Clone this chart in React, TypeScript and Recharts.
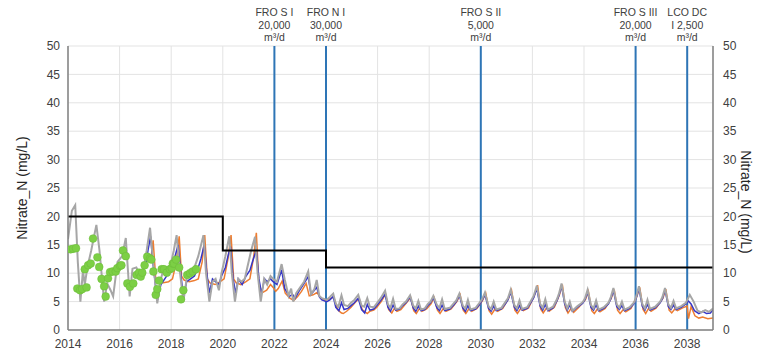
import {
  ComposedChart,
  CartesianGrid,
  Line,
  Scatter,
  XAxis,
  YAxis,
  ReferenceLine,
  Label,
} from "recharts";

const font = "'Liberation Sans', Arial, sans-serif";

const yearTicks = [2014, 2016, 2018, 2020, 2022, 2024, 2026, 2028, 2030, 2032, 2034, 2036, 2038];
const nitrateTicks = [0, 5, 10, 15, 20, 25, 30, 35, 40, 45, 50];

// limit (step line)
const limitLine: [number, number][] = [
  [2014, 20],
  [2020, 14],
  [2024, 11],
  [2039, 11],
];

// plant start-ups
const plants: { year: number; lines: string[] }[] = [
  { year: 2022, lines: ["FRO S I", "20,000", "m³/d"] },
  { year: 2024, lines: ["FRO N I", "30,000", "m³/d"] },
  { year: 2030, lines: ["FRO S II", "5,000", "m³/d"] },
  { year: 2036, lines: ["FRO S III", "20,000", "m³/d"] },
  { year: 2038, lines: ["LCO DC", "I 2,500", "m³/d"] },
];

const observed: [number, number][] = [
  [2014.1, 14.2], [2014.2, 14.3], [2014.31, 14.4], [2014.36, 7.3], [2014.47, 7.0], [2014.55, 7.2],
  [2014.65, 10.7], [2014.72, 7.5], [2014.78, 11.4], [2014.88, 11.7], [2014.97, 16.1], [2015.14, 12.8],
  [2015.21, 11.1], [2015.3, 9.0], [2015.4, 7.7], [2015.46, 5.9], [2015.55, 9.1], [2015.63, 10.2],
  [2015.73, 10.3], [2015.85, 10.3], [2015.91, 10.9], [2016.02, 11.3], [2016.07, 11.4], [2016.13, 14.0],
  [2016.24, 13.0], [2016.3, 8.2], [2016.4, 7.6], [2016.53, 8.2], [2016.66, 9.7], [2016.75, 10.1],
  [2016.82, 9.4], [2016.88, 10.1], [2016.97, 11.4], [2017.07, 12.9], [2017.18, 12.6], [2017.23, 12.4],
  [2017.31, 10.3], [2017.4, 6.2], [2017.46, 7.2], [2017.53, 8.7], [2017.63, 10.7], [2017.72, 10.7],
  [2017.83, 10.1], [2017.95, 10.7], [2018.02, 10.9], [2018.06, 11.7], [2018.11, 11.7], [2018.19, 12.4],
  [2018.31, 11.0], [2018.38, 5.4], [2018.47, 7.0], [2018.62, 9.7], [2018.73, 10.0], [2018.83, 10.3],
  [2018.96, 10.7],
];

const grayLine: [number, number][] = [
  [2014.0, 16.0], [2014.15, 21.0], [2014.28, 22.0], [2014.38, 12.0], [2014.48, 5.0], [2014.58, 10.5], [2014.65, 8.0], [2014.75, 11.0], [2014.9, 14.0],
  [2015.1, 18.5], [2015.22, 14.0], [2015.4, 5.0], [2015.52, 8.2], [2015.65, 7.0], [2015.75, 5.9], [2015.92, 12.0],
  [2016.1, 13.0], [2016.24, 16.2], [2016.39, 5.9], [2016.5, 10.8], [2016.65, 11.0], [2016.75, 10.0], [2016.88, 9.5],
  [2017.05, 14.0], [2017.18, 18.0], [2017.3, 12.0], [2017.46, 4.7], [2017.6, 9.0], [2017.72, 11.0], [2017.85, 10.0], [2017.98, 11.5],
  [2018.1, 14.0], [2018.21, 16.7], [2018.32, 11.0], [2018.47, 5.0], [2018.6, 9.0], [2018.75, 10.5], [2018.9, 11.0],
  [2019.05, 13.0], [2019.25, 16.7], [2019.35, 10.0], [2019.48, 5.0], [2019.6, 8.5], [2019.72, 9.0], [2019.85, 7.0], [2019.95, 10.0],
  [2020.1, 13.0], [2020.25, 16.5], [2020.35, 10.0], [2020.47, 5.0], [2020.6, 9.0], [2020.72, 8.5], [2020.85, 9.0], [2020.95, 11.0],
  [2021.1, 14.0], [2021.25, 16.4], [2021.35, 10.0], [2021.47, 5.0], [2021.6, 9.0], [2021.72, 8.0], [2021.85, 9.5], [2021.95, 9.0],
  [2022.1, 8.5], [2022.28, 11.6], [2022.4, 8.9], [2022.55, 6.0], [2022.65, 7.3], [2022.73, 5.0], [2022.85, 6.5], [2023.0, 7.5], [2023.15, 8.5],
  [2023.31, 10.3], [2023.42, 6.3], [2023.55, 7.2], [2023.64, 8.8], [2023.74, 6.0], [2023.84, 5.6], [2024.03, 5.3],
  [2024.15, 5.8], [2024.28, 6.4], [2024.38, 4.6], [2024.48, 4.1], [2024.6, 6.1], [2024.7, 4.4], [2024.85, 4.2], [2024.97, 4.8],
  [2025.1, 5.3], [2025.25, 6.2], [2025.38, 4.3], [2025.48, 4.1], [2025.6, 5.6], [2025.7, 4.1], [2025.85, 4.0], [2025.97, 4.7],
  [2026.12, 5.6], [2026.29, 6.9], [2026.4, 4.5], [2026.5, 3.9], [2026.6, 5.5], [2026.7, 3.7], [2026.85, 3.8], [2026.97, 4.5],
  [2027.1, 5.0], [2027.26, 6.1], [2027.38, 4.3], [2027.48, 3.8], [2027.58, 5.1], [2027.68, 3.6], [2027.83, 3.8], [2027.95, 4.6],
  [2028.05, 5.0], [2028.16, 6.0], [2028.3, 4.4], [2028.4, 3.9], [2028.5, 5.4], [2028.6, 3.7], [2028.8, 3.9], [2028.95, 4.7],
  [2029.05, 5.2], [2029.17, 6.4], [2029.3, 4.3], [2029.4, 3.8], [2029.5, 5.3], [2029.6, 3.6], [2029.8, 3.9], [2029.95, 4.8],
  [2030.05, 5.4], [2030.16, 6.6], [2030.3, 4.2], [2030.4, 3.7], [2030.5, 5.0], [2030.6, 3.6], [2030.8, 3.9], [2030.95, 4.9],
  [2031.05, 5.6], [2031.16, 7.1], [2031.3, 4.4], [2031.4, 3.8], [2031.5, 5.2], [2031.6, 3.7], [2031.8, 4.0], [2031.95, 5.2],
  [2032.05, 6.0], [2032.17, 7.8], [2032.3, 4.6], [2032.4, 3.9], [2032.5, 5.4], [2032.6, 3.6], [2032.8, 4.1], [2032.95, 5.4],
  [2033.03, 6.4], [2033.13, 8.2], [2033.25, 5.0], [2033.35, 3.8], [2033.45, 5.0], [2033.55, 3.4], [2033.75, 4.2], [2033.95, 4.9],
  [2034.04, 5.6], [2034.14, 7.1], [2034.27, 4.4], [2034.37, 3.8], [2034.47, 5.2], [2034.57, 3.6], [2034.77, 4.0], [2034.95, 4.8],
  [2035.04, 5.8], [2035.14, 7.4], [2035.27, 4.5], [2035.37, 3.9], [2035.47, 5.0], [2035.57, 3.6], [2035.77, 4.0], [2035.95, 4.9],
  [2036.03, 6.0], [2036.13, 7.7], [2036.26, 4.6], [2036.36, 3.8], [2036.46, 5.3], [2036.56, 3.7], [2036.76, 4.1], [2036.95, 5.0],
  [2037.04, 5.8], [2037.14, 7.4], [2037.27, 4.5], [2037.37, 3.9], [2037.47, 5.1], [2037.57, 3.8], [2037.77, 4.2], [2037.95, 4.8],
  [2038.1, 6.2], [2038.25, 5.0], [2038.4, 3.4], [2038.55, 3.1], [2038.7, 3.5], [2038.85, 3.2], [2039.0, 3.8],
];

const blueLine: [number, number][] = [
  [2017.0, 11.0], [2017.1, 14.0], [2017.2, 16.5], [2017.3, 11.5], [2017.46, 5.2], [2017.6, 8.0], [2017.75, 9.0], [2017.9, 10.0],
  [2018.05, 11.0], [2018.15, 13.0], [2018.27, 15.0], [2018.37, 10.0], [2018.47, 5.9], [2018.6, 8.5], [2018.75, 9.0], [2018.9, 9.5],
  [2019.05, 11.0], [2019.15, 12.5], [2019.28, 15.0], [2019.38, 10.0], [2019.48, 6.5], [2019.6, 9.0], [2019.72, 8.5], [2019.85, 8.0], [2019.95, 9.5],
  [2020.1, 11.0], [2020.2, 13.0], [2020.3, 14.7], [2020.4, 9.0], [2020.5, 6.5], [2020.6, 9.0], [2020.75, 8.0], [2020.9, 9.5],
  [2021.05, 10.5], [2021.15, 12.0], [2021.3, 14.1], [2021.4, 9.0], [2021.5, 6.5], [2021.62, 9.0], [2021.72, 8.5], [2021.85, 9.0], [2021.95, 8.5],
  [2022.1, 8.0], [2022.28, 10.6], [2022.4, 7.3], [2022.58, 5.9], [2022.7, 6.3], [2022.8, 5.6], [2022.95, 6.8], [2023.15, 8.2], [2023.31, 9.4],
  [2023.42, 6.3], [2023.55, 7.0], [2023.64, 7.5], [2023.75, 5.8], [2023.84, 5.3], [2024.03, 5.0],
  [2024.15, 5.3], [2024.28, 5.9], [2024.38, 4.0], [2024.5, 3.4], [2024.6, 4.8], [2024.7, 3.6], [2024.85, 3.8], [2024.97, 4.3],
  [2025.1, 4.8], [2025.25, 5.6], [2025.38, 3.6], [2025.5, 3.0], [2025.6, 4.5], [2025.7, 3.5], [2025.85, 3.7], [2025.97, 4.3],
  [2026.12, 5.2], [2026.29, 6.3], [2026.4, 4.0], [2026.5, 3.3], [2026.6, 4.4], [2026.7, 3.5], [2026.85, 3.7], [2026.97, 4.3],
  [2027.1, 4.8], [2027.26, 5.8], [2027.38, 3.9], [2027.48, 3.3], [2027.58, 4.2], [2027.68, 3.4], [2027.83, 3.6], [2027.95, 4.3],
  [2028.05, 4.8], [2028.16, 5.7], [2028.3, 3.9], [2028.4, 3.4], [2028.5, 4.4], [2028.6, 3.4], [2028.8, 3.7], [2028.95, 4.4],
  [2029.05, 5.0], [2029.17, 6.1], [2029.3, 3.9], [2029.4, 3.3], [2029.5, 4.3], [2029.6, 3.4], [2029.8, 3.7], [2029.95, 4.5],
  [2030.05, 5.2], [2030.16, 6.2], [2030.3, 3.8], [2030.4, 3.3], [2030.5, 4.2], [2030.6, 3.4], [2030.8, 3.7], [2030.95, 4.6],
  [2031.05, 5.3], [2031.16, 6.7], [2031.3, 4.0], [2031.4, 3.4], [2031.5, 4.3], [2031.6, 3.5], [2031.8, 3.8], [2031.95, 4.9],
  [2032.05, 5.7], [2032.17, 7.3], [2032.3, 4.2], [2032.4, 3.5], [2032.5, 4.5], [2032.6, 3.4], [2032.8, 3.9], [2032.95, 5.1],
  [2033.03, 6.1], [2033.13, 7.8], [2033.25, 4.6], [2033.35, 3.5], [2033.45, 4.4], [2033.55, 3.3], [2033.75, 4.0], [2033.95, 4.7],
  [2034.04, 5.4], [2034.14, 6.7], [2034.27, 4.0], [2034.37, 3.5], [2034.47, 4.4], [2034.57, 3.4], [2034.77, 3.8], [2034.95, 4.6],
  [2035.04, 5.5], [2035.14, 7.0], [2035.27, 4.1], [2035.37, 3.6], [2035.47, 4.3], [2035.57, 3.4], [2035.77, 3.8], [2035.95, 4.7],
  [2036.03, 5.7], [2036.13, 7.3], [2036.26, 4.2], [2036.36, 3.5], [2036.46, 4.5], [2036.56, 3.5], [2036.76, 3.9], [2036.95, 4.8],
  [2037.04, 5.5], [2037.14, 7.1], [2037.27, 4.1], [2037.37, 3.6], [2037.47, 4.4], [2037.57, 3.6], [2037.77, 4.0], [2037.95, 4.6],
  [2038.05, 5.1], [2038.15, 4.6], [2038.28, 3.4], [2038.45, 2.9], [2038.6, 3.3], [2038.75, 2.9], [2038.9, 3.0], [2039.0, 3.6],
];

const orangeLine: [number, number][] = [
  [2017.2, 12.0], [2017.3, 15.8], [2017.4, 9.0], [2017.5, 8.5], [2017.7, 8.3], [2017.9, 8.5],
  [2018.05, 9.0], [2018.2, 12.0], [2018.31, 16.5], [2018.4, 9.5], [2018.5, 8.8], [2018.7, 8.5], [2018.9, 8.7],
  [2019.05, 9.0], [2019.2, 12.0], [2019.3, 16.7], [2019.4, 9.0], [2019.5, 8.3], [2019.7, 8.0], [2019.9, 8.5],
  [2020.05, 9.0], [2020.2, 12.5], [2020.32, 16.7], [2020.42, 9.0], [2020.52, 8.3], [2020.7, 8.0], [2020.9, 8.5],
  [2021.05, 9.0], [2021.2, 13.0], [2021.3, 17.1], [2021.4, 8.0], [2021.5, 6.5], [2021.7, 7.0], [2021.85, 8.0], [2021.95, 7.5],
  [2022.05, 6.8], [2022.15, 7.3], [2022.3, 8.6], [2022.42, 6.5], [2022.6, 5.6], [2022.75, 5.2], [2022.9, 5.9], [2023.05, 6.8],
  [2023.23, 8.2], [2023.35, 6.0], [2023.5, 6.2], [2023.65, 6.6], [2023.8, 5.6], [2023.95, 5.2],
  [2024.1, 5.4], [2024.3, 5.8], [2024.45, 3.6], [2024.6, 3.0], [2024.67, 2.9], [2024.8, 3.3], [2024.97, 4.0],
  [2025.12, 4.8], [2025.28, 5.6], [2025.4, 3.6], [2025.6, 2.9], [2025.7, 3.3], [2025.85, 3.5], [2025.97, 4.0],
  [2026.14, 5.0], [2026.31, 6.3], [2026.43, 3.6], [2026.55, 3.0], [2026.65, 3.8], [2026.75, 3.3], [2026.9, 3.6],
  [2027.12, 4.8], [2027.28, 5.7], [2027.4, 3.4], [2027.5, 2.9], [2027.62, 3.8], [2027.72, 3.3], [2027.9, 3.7],
  [2028.07, 4.6], [2028.19, 5.7], [2028.32, 3.5], [2028.42, 2.9], [2028.55, 3.8], [2028.65, 3.3], [2028.85, 3.7],
  [2029.07, 5.0], [2029.2, 6.2], [2029.32, 3.5], [2029.42, 2.9], [2029.55, 3.8], [2029.65, 3.3], [2029.85, 3.8],
  [2030.07, 5.2], [2030.19, 6.5], [2030.32, 3.4], [2030.42, 2.8], [2030.55, 3.7], [2030.65, 3.3], [2030.85, 3.8],
  [2031.07, 5.5], [2031.19, 7.0], [2031.32, 3.5], [2031.42, 2.9], [2031.55, 3.8], [2031.65, 3.4], [2031.85, 3.9],
  [2032.07, 6.0], [2032.2, 7.9], [2032.32, 3.7], [2032.42, 3.0], [2032.55, 3.9], [2032.65, 3.3], [2032.85, 4.0],
  [2033.05, 6.2], [2033.16, 8.0], [2033.28, 3.9], [2033.38, 3.0], [2033.5, 3.8], [2033.6, 3.1], [2033.8, 4.0],
  [2034.06, 5.4], [2034.17, 6.8], [2034.3, 3.4], [2034.4, 2.9], [2034.52, 3.7], [2034.62, 3.2], [2034.82, 3.8],
  [2035.06, 5.6], [2035.17, 7.1], [2035.3, 3.5], [2035.4, 2.9], [2035.52, 3.6], [2035.62, 3.2], [2035.82, 3.8],
  [2036.05, 5.9], [2036.16, 7.5], [2036.29, 3.6], [2036.39, 2.9], [2036.5, 3.8], [2036.6, 3.3], [2036.8, 3.9],
  [2037.06, 5.6], [2037.17, 7.2], [2037.3, 3.5], [2037.4, 3.0], [2037.52, 3.7], [2037.62, 3.4], [2037.82, 3.9],
  [2038.0, 4.2], [2038.05, 2.0], [2038.15, 4.1], [2038.3, 2.5], [2038.45, 2.1], [2038.6, 2.3], [2038.8, 2.0], [2039.0, 2.1],
];

const toPoints = (rows: [number, number][]) => rows.map(([x, y]) => ({ x, y }));

function PlantLabel(props: any) {
  const { viewBox, lines } = props;
  if (!viewBox) return null;
  const cx = viewBox.x;
  const top = viewBox.y;
  return (
    <text x={cx} y={top - 30} textAnchor="middle" fontSize={10.5} fill="#404040" fontFamily={font}>
      {lines.map((t: string, i: number) => (
        <tspan key={i} x={cx} dy={i === 0 ? 0 : 12.5}>
          {t}
        </tspan>
      ))}
    </text>
  );
}

function AxisTitle(props: any) {
  const { viewBox, side } = props;
  if (!viewBox) return null;
  const x = side === "left" ? viewBox.x + 22 : viewBox.x + viewBox.width + 3;
  const y = side === "left" ? 188 : 202;
  const angle = side === "left" ? -90 : 90;
  return (
    <text
      x={x}
      y={y}
      transform={`rotate(${angle}, ${x}, ${y})`}
      textAnchor="middle"
      dominantBaseline="central"
      fontSize={14}
      fill="#262626"
      fontFamily={font}
    >
      Nitrate_N (mg/L)
    </text>
  );
}

export default function App() {
  const tickStyle = { fontSize: 12, fill: "#404040", fontFamily: font };
  return (
    <div style={{ position: "absolute", left: 0, top: 0, background: "#fff" }}>
      <ComposedChart width={757} height={356} margin={{ top: 46, right: 14, bottom: 4, left: 0 }}>
        <CartesianGrid yAxisId="left" stroke="#e3e3e3" strokeWidth={1} />
        <XAxis
          type="number"
          dataKey="x"
          domain={[2014, 2039]}
          ticks={yearTicks}
          allowDataOverflow
          height={22}
          tickLine={false}
          tickMargin={3}
          tick={tickStyle}
          axisLine={{ stroke: "#808080", strokeWidth: 1.5 }}
        />
        <YAxis
          yAxisId="left"
          type="number"
          domain={[0, 50]}
          ticks={nitrateTicks}
          allowDataOverflow
          width={68}
          tickLine={false}
          tickMargin={2}
          tick={tickStyle}
          axisLine={{ stroke: "#808080", strokeWidth: 1.5 }}
        >
          <Label content={<AxisTitle side="left" />} />
        </YAxis>
        <YAxis
          yAxisId="right"
          orientation="right"
          type="number"
          domain={[0, 50]}
          ticks={nitrateTicks}
          allowDataOverflow
          width={30}
          tickLine={false}
          tickMargin={4}
          tick={tickStyle}
          axisLine={{ stroke: "#808080", strokeWidth: 1.5 }}
        >
          <Label content={<AxisTitle side="right" />} />
        </YAxis>

        {plants.map((p) => (
          <ReferenceLine
            key={p.year}
            x={p.year}
            yAxisId="left"
            stroke="#2e75b6"
            strokeWidth={2}
            label={<PlantLabel lines={p.lines} />}
          />
        ))}

        <Line
          yAxisId="left"
          data={toPoints(orangeLine)}
          dataKey="y"
          type="linear"
          stroke="#ed7d31"
          strokeWidth={1.5}
          dot={false}
          isAnimationActive={false}
        />
        <Line
          yAxisId="left"
          data={toPoints(blueLine)}
          dataKey="y"
          type="linear"
          stroke="#3535c8"
          strokeWidth={1.5}
          dot={false}
          isAnimationActive={false}
        />
        <Line
          yAxisId="left"
          data={toPoints(grayLine)}
          dataKey="y"
          type="linear"
          stroke="#a6a6a6"
          strokeWidth={2}
          dot={false}
          isAnimationActive={false}
        />
        <Line
          yAxisId="right"
          data={toPoints(limitLine)}
          dataKey="y"
          type="stepAfter"
          stroke="#000000"
          strokeWidth={2}
          dot={false}
          isAnimationActive={false}
        />
        <Scatter
          yAxisId="left"
          data={toPoints(observed)}
          dataKey="y"
          fill="#7ccf45"
          shape={(props: any) => (
            <circle cx={props.cx} cy={props.cy} r={3.9} fill="#7ccf45" stroke="#6abb38" strokeWidth={0.5} />
          )}
          isAnimationActive={false}
        />
      </ComposedChart>
    </div>
  );
}
